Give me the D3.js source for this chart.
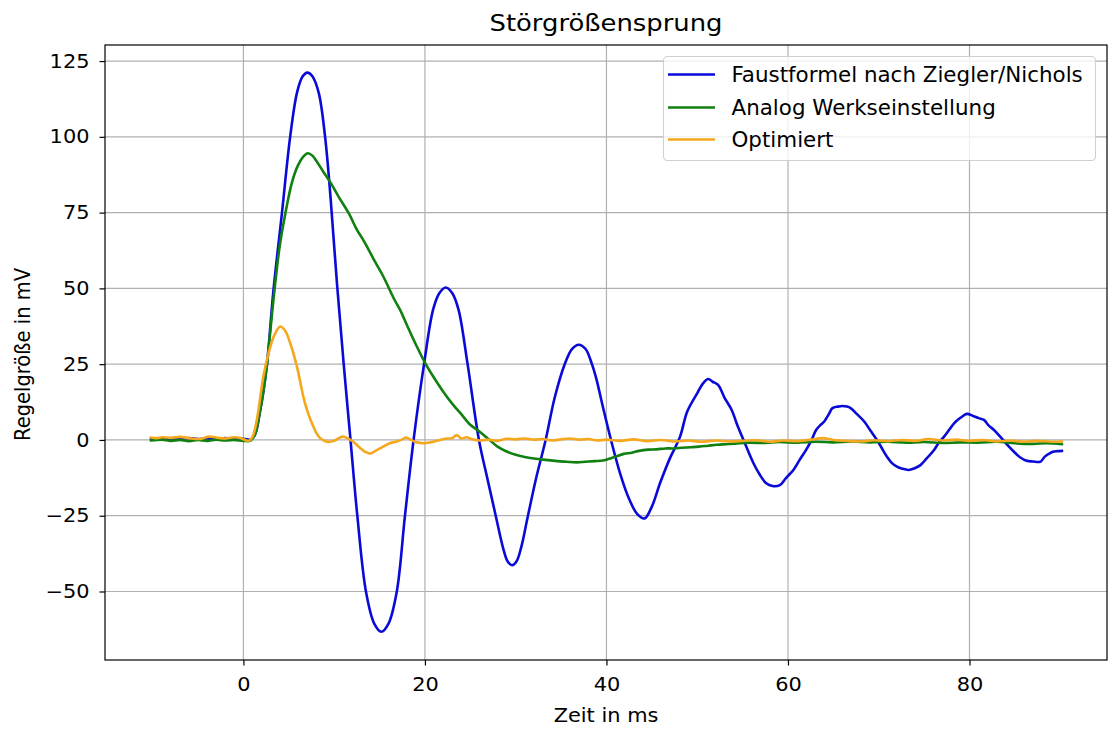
<!DOCTYPE html>
<html><head><meta charset="utf-8">
<script src="https://cdn.jsdelivr.net/npm/d3@7"></script>
<style>
body{margin:0;background:#fff}
svg{display:block}
text{font-family:"DejaVu Sans",sans-serif;fill:#000}
</style>
</head><body>
<svg id="chart" width="1109" height="729"></svg>
<script>
// ---------- data ----------
const chartTitle = "Störgrößensprung";
const xLabel = "Zeit in ms";
const yLabel = "Regelgröße in mV";
const seriesNames = ["Faustformel nach Ziegler/Nichols", "Analog Werkseinstellung", "Optimiert"];
const xTicks = [0, 20, 40, 60, 80];
const yTicks = [-50, -25, 0, 25, 50, 75, 100, 125];

const blueT = [-10.2,-9,-8,-7,-6,-5,-4,-3,-2,-1,0,0.8,1.3,1.8,2.2,2.6,3.3,4.25,5.15,5.9,6.5,7.05,7.6,8.3,9.0,9.6,10.3,11.05,11.8,12.55,13.5,14.4,15.2,16.0,16.9,17.8,18.75,19.9,20.9,21.6,22.3,23.0,23.7,24.7,25.95,26.9,27.8,28.6,29.1,29.6,30.1,30.6,31.35,32.3,33.3,34.3,35.4,36.2,36.95,37.7,38.4,38.9,39.6,40.5,41.5,42.5,43.4,44.2,45.0,45.9,47.0,48.1,48.9,50.0,50.6,51.2,51.7,52.3,53.0,53.8,54.4,55.1,56.2,56.9,57.6,58.3,59.1,59.8,60.6,61.3,62.0,62.6,63.1,63.6,64.0,64.5,64.9,65.5,66.0,66.5,66.9,67.6,68.4,69.1,69.8,70.3,70.9,71.4,72.0,72.6,73.3,73.9,74.6,75.3,76.1,76.6,77.2,77.8,78.3,79.0,79.7,80.4,81.0,81.6,82.1,82.7,83.7,84.3,84.9,85.6,86.3,87.0,87.8,88.3,88.8,89.2,89.7,90.2];
const blueV = [0.4,0.2,0.5,0.3,0.6,0.3,0.5,0.2,0.6,0.3,0.4,0.1,2,9,16,25,49,75,100,114.5,119.8,121.2,120,114.5,100,80,52,25,0,-25,-50,-60.5,-63.3,-60.5,-50,-25,0,25,43,48.5,50.3,48.5,43,25,0,-13,-25,-35.5,-40,-41.3,-40,-35.5,-25,-12,0,14,25,30,31.4,30,25,20,11,0,-11,-19.5,-24.5,-25.9,-22,-14.3,-6,1,9.4,15.4,18.5,20.1,19.2,18.2,14,9.9,5,0,-7.7,-11.5,-14.3,-15.2,-14.9,-12.5,-9.9,-6.5,-3.3,0,3.3,5,6.1,8.5,10.5,11,11.2,11,10.5,8.5,6.1,3,0,-2.5,-5.5,-7.5,-8.8,-9.5,-9.9,-9.4,-8.3,-6,-3.3,-1,1.1,3.5,5.5,7.3,8.6,7.9,7.2,6.6,4.8,3.3,0,-2,-3.9,-5.8,-6.9,-7.1,-7.2,-5.5,-4.5,-3.9,-3.7,-3.6];

const greenT = [-10.2,-9,-8,-7,-6,-5,-4,-3,-2,-1,0,0.8,1.3,1.8,2.2,2.6,3.3,4.0,4.6,5.35,6.0,6.6,7.1,7.6,8.1,8.8,9.6,10.5,11.6,12.5,13.1,13.6,14.5,15.4,16.6,17.25,18.0,19.0,20.0,21.0,22.0,23.0,24.0,25.0,26.0,27.0,28.0,29.0,30.0,31.0,32.0,33.0,34.6,35.6,36.7,37.7,38.7,39.6,40.2,41.0,41.9,42.8,43.6,44.6,45.5,46.5,47.4,48.3,49.3,50.2,51.2,52.2,53.2,54.2,55.8,57.5,59,61,63,65,67,69,71,73,75,77,79,81,83,85,87,88.5,90.2];
const greenV = [-0.2,0.1,-0.3,0,-0.4,0,-0.3,0.1,-0.2,0,-0.3,-0.2,2,9,16,25,46,64,74.4,85,90.5,93.5,94.6,93.8,91.8,88.5,84.9,80.2,74.8,69.4,66.5,63.9,58.8,54,46.5,43,38,31.5,25.5,20.5,16,12,8.5,5,2.8,0.3,-2.2,-3.8,-4.9,-5.6,-6.1,-6.5,-7,-7.2,-7.4,-7.2,-7.0,-6.8,-6.3,-5.5,-4.6,-4.2,-3.6,-3.2,-3.1,-2.8,-2.8,-2.6,-2.4,-2.2,-1.9,-1.6,-1.4,-1.2,-0.9,-1.0,-0.7,-0.9,-0.6,-0.8,-0.5,-0.8,-0.6,-0.9,-0.7,-1.0,-0.8,-0.9,-0.6,-1.1,-1.3,-1.1,-1.4];

const orangeT = [-10.2,-9.5,-9,-8,-7,-6,-5,-4.5,-3.8,-3,-2,-1,-0.3,0.6,1.0,1.5,2.2,2.8,3.4,4.05,4.6,5.15,5.9,6.6,7.1,7.55,8.0,8.46,9.2,10.0,10.5,11.0,11.5,12.1,12.8,13.4,13.96,14.6,15.4,16.2,16.9,17.5,17.9,18.4,19.0,19.8,20.6,21.4,22.2,23.0,23.5,24.0,24.6,25.2,26.0,27.0,28.0,29.0,30.0,31.0,32.0,33.0,34.0,35.0,36.0,37.0,38.0,39.0,40.0,41.5,43.0,44.5,46.0,47.5,49.0,50.5,52.0,53.5,55.0,56.5,58.0,59.5,61.0,62.5,63.8,65.0,66.5,68.0,69.5,71.0,72.5,74.0,75.5,77.0,78.5,80.0,81.5,83.0,84.5,86.0,87.5,89.0,90.2];
const orangeV = [0.8,0.6,0.9,0.7,1.0,0.6,0.3,0.5,1.1,0.8,0.5,0.9,0.6,-0.3,1,7,21,29,34.5,37.4,36,32,24.2,14.3,9,5.5,2.5,0.6,-0.6,-0.3,0.6,1.1,0.5,-0.6,-2.5,-3.9,-4.5,-3.5,-2.2,-1,-0.5,0.2,0.8,0.1,-0.7,-1.1,-0.8,-0.2,0.4,0.6,1.6,0.5,0.9,0.2,-0.2,0.1,-0.3,0.4,0.2,0.5,0.1,0.3,-0.2,0.2,0.5,0.1,0.3,-0.2,0.1,-0.3,0.2,-0.4,0,-0.5,-0.2,-0.6,-0.2,-0.5,-0.3,-0.1,-0.6,-0.2,-0.4,0.1,0.6,0,-0.3,-0.5,-0.1,-0.4,0,-0.3,0.3,-0.2,0.1,-0.3,0,-0.5,-0.2,-0.6,-0.3,-0.6,-0.5];

// ---------- style / layout ----------
const colors = ["#0a0ad8", "#108010", "#f5a81e"];
const plot = {left: 105, right: 1107, top: 45, bottom: 660};
const SX = 1.1;            // horizontal text stretch seen in the reference
const SXL = 1.045;         // legend text stretch
const tickFont = 19, labelFont = 19, yLabelFont = 19.5, legendFont = 20.5, titleFont = 23.5;
const lineW = 2.6;

const svg = d3.select("#chart");
const x = d3.scaleLinear().domain([-15.25, 95.15]).range([plot.left, plot.right]);
const y = d3.scaleLinear().domain([-72.6, 130.3]).range([plot.bottom, plot.top]);

// grid
const grid = svg.append("g");
grid.selectAll("line.gx").data(xTicks).join("line")
  .attr("x1", d => x(d)).attr("x2", d => x(d))
  .attr("y1", plot.top).attr("y2", plot.bottom)
  .attr("stroke", "#b0b0b0").attr("stroke-width", 1.2);
grid.selectAll("line.gy").data(yTicks).join("line")
  .attr("y1", d => y(d)).attr("y2", d => y(d))
  .attr("x1", plot.left).attr("x2", plot.right)
  .attr("stroke", "#b0b0b0").attr("stroke-width", 1.2);

// lines
const series = [[blueT, blueV], [greenT, greenV], [orangeT, orangeV]];
const line = d3.line().x(d => x(d[0])).y(d => y(d[1])).curve(d3.curveCatmullRom.alpha(0.5));
svg.append("defs").append("clipPath").attr("id", "clip")
  .append("rect").attr("x", plot.left).attr("y", plot.top)
  .attr("width", plot.right - plot.left).attr("height", plot.bottom - plot.top);
const lg = svg.append("g").attr("clip-path", "url(#clip)");
series.forEach(([T, V], i) => {
  lg.append("path").datum(T.map((t, k) => [t, V[k]]))
    .attr("d", line).attr("fill", "none")
    .attr("stroke", colors[i]).attr("stroke-width", lineW)
    .attr("stroke-linejoin", "round").attr("stroke-linecap", "round");
});

// frame
svg.append("rect").attr("x", plot.left).attr("y", plot.top)
  .attr("width", plot.right - plot.left).attr("height", plot.bottom - plot.top)
  .attr("fill", "none").attr("stroke", "#000").attr("stroke-width", 1.2);

// axes
const xAxis = svg.append("g").attr("transform", `translate(0,${plot.bottom})`)
  .call(d3.axisBottom(x).tickValues(xTicks).tickSize(5.5).tickPadding(12).tickSizeOuter(0));
const yAxis = svg.append("g").attr("transform", `translate(${plot.left},0)`)
  .call(d3.axisLeft(y).tickValues(yTicks).tickSize(5.5).tickPadding(10).tickSizeOuter(0));
[xAxis, yAxis].forEach(a => {
  a.select(".domain").remove();
  a.selectAll(".tick line").attr("stroke", "#000").attr("stroke-width", 1.2);
  a.selectAll(".tick text").style("font-size", tickFont + "px")
    .style("font-family", '"DejaVu Sans"').attr("fill", "#000");
});
xAxis.selectAll(".tick text").attr("transform", `scale(${SX},1)`);
yAxis.selectAll(".tick text").each(function() {
  const t = d3.select(this);
  const xx = +t.attr("x");
  t.attr("x", null).attr("transform", `translate(${xx},0) scale(${SX},1)`);
});

function addText(str, tx, ty, size, anchor, extra) {
  return svg.append("text")
    .attr("transform", `translate(${tx},${ty}) scale(${SX},1)` + (extra || ""))
    .attr("text-anchor", anchor).style("font-size", size + "px").text(str);
}
addText(chartTitle, (plot.left + plot.right) / 2, 31, titleFont, "middle");
addText(xLabel, (plot.left + plot.right) / 2, 722, labelFont, "middle");
addText(yLabel, 30, (plot.top + plot.bottom) / 2 + 2, yLabelFont, "middle", " rotate(-90)");

// legend
const leg = svg.append("g");
leg.append("rect").attr("x", 663.5).attr("y", 56.5).attr("width", 432).attr("height", 104)
  .attr("rx", 4).attr("fill", "#fff").attr("fill-opacity", 0.8)
  .attr("stroke", "#d0d0d0").attr("stroke-width", 1.1);
const legY = [74.5, 107.5, 139.5];
seriesNames.forEach((n, i) => {
  leg.append("line").attr("x1", 668).attr("x2", 715).attr("y1", legY[i]).attr("y2", legY[i])
    .attr("stroke", colors[i]).attr("stroke-width", lineW);
  leg.append("text").attr("transform", `translate(731.5,${legY[i] + 0.365 * legendFont}) scale(${SXL},1)`)
    .style("font-size", legendFont + "px").text(n);
});
</script>
</body></html>
